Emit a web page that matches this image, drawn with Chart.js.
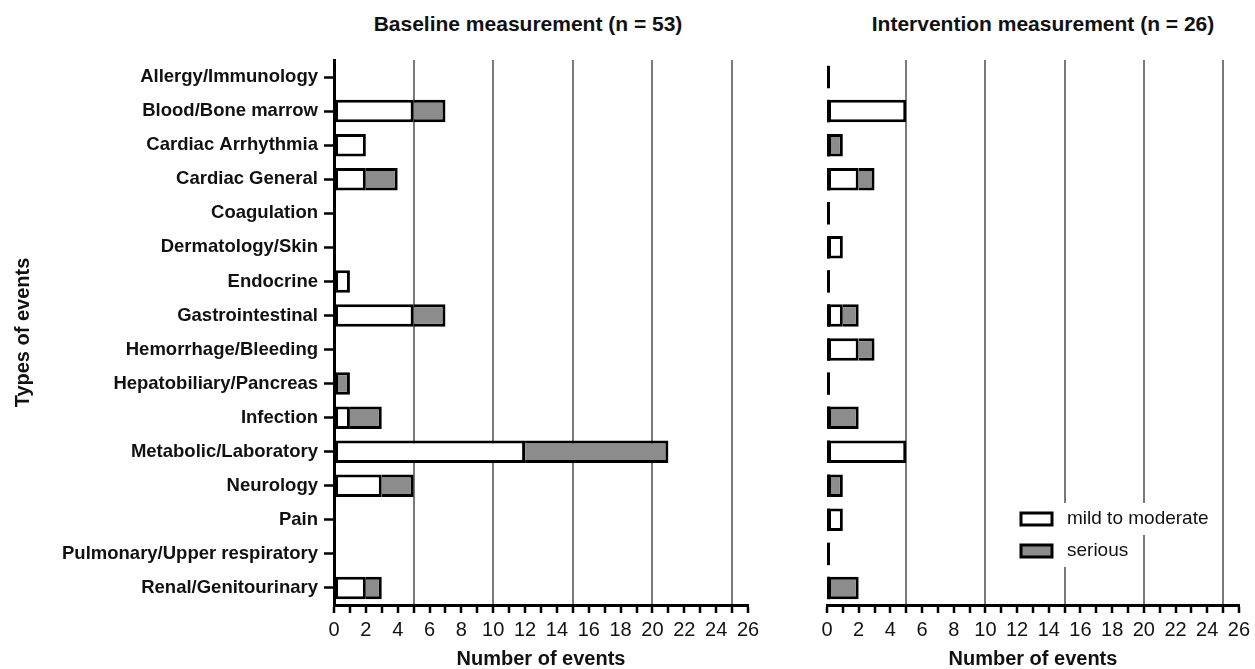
<!DOCTYPE html>
<html>
<head>
<meta charset="utf-8">
<script src="https://cdn.jsdelivr.net/npm/chart.js@4.4.1/dist/chart.umd.min.js"></script>
<style>
  html, body { margin: 0; padding: 0; background: #fff; }
  #page { position: relative; width: 1255px; height: 669px; overflow: hidden; }
  .panel { position: absolute; top: 0; height: 669px; }
  .title {
    position: absolute; top: 12px; width: 420px; text-align: center;
    font: bold 21px 'Liberation Sans', Arial, sans-serif; color: #111;
  }
</style>
</head>
<body>
<div id="page">
  <div class="title" style="left: 318px">Baseline measurement (n = 53)</div>
  <div class="title" style="left: 833px">Intervention measurement (n = 26)</div>
  <div class="panel" style="left: 0; width: 770px"><canvas id="left"></canvas></div>
  <div class="panel" style="left: 770px; width: 485px"><canvas id="right"></canvas></div>
</div>
<script>
const categories = [
  'Allergy/Immunology', 'Blood/Bone marrow', 'Cardiac Arrhythmia', 'Cardiac General',
  'Coagulation', 'Dermatology/Skin', 'Endocrine', 'Gastrointestinal',
  'Hemorrhage/Bleeding', 'Hepatobiliary/Pancreas', 'Infection', 'Metabolic/Laboratory',
  'Neurology', 'Pain', 'Pulmonary/Upper respiratory', 'Renal/Genitourinary'
]
const seriesNames = ['mild to moderate', 'serious']
const baselineMild = [0, 5, 2, 2, 0, 0, 1, 5, 0, 0, 1, 12, 3, 0, 0, 2]
const baselineSerious = [0, 2, 0, 2, 0, 0, 0, 2, 0, 1, 2, 9, 2, 0, 0, 1]
const interventionMild = [0, 5, 0, 2, 0, 1, 0, 1, 2, 0, 0, 5, 0, 1, 0, 0]
const interventionSerious = [0, 0, 1, 1, 0, 0, 0, 1, 1, 0, 2, 0, 1, 0, 0, 2]
const xMax = 26

const FONT = "'Liberation Sans', Arial, sans-serif"
const TEXT = '#111'
const GREY = '#8c8c8c'

function datasets(mild, serious) {
  return [
    {
      label: seriesNames[0],
      data: mild,
      backgroundColor: '#fff',
      borderColor: '#000',
      borderWidth: 3,
      borderSkipped: false,
    },
    {
      label: seriesNames[1],
      data: serious,
      backgroundColor: GREY,
      borderColor: '#000',
      // the white part already draws the divider
      borderWidth: (ctx) => ctx.chart.data.datasets[0].data[ctx.dataIndex] > 0
        ? {top: 3, right: 3, bottom: 3, left: 0}
        : 3,
      borderSkipped: false,
    },
  ]
}

function xScale() {
  return {
    stacked: true,
    min: 0,
    max: xMax,
    afterFit: (scale) => { scale.height = 64 },
    border: {color: '#000', width: 3},
    grid: {
      color: (ctx) => ctx.tick && ctx.tick.value > 0 && ctx.tick.value % 5 === 0 ? '#7a7a7a' : 'rgba(0,0,0,0)',
      lineWidth: 2,
      tickColor: '#000',
      tickWidth: 2.5,
      tickLength: 8,
    },
    ticks: {
      stepSize: 1,
      autoSkip: false,
      maxRotation: 0,
      padding: 5,
      color: TEXT,
      font: {family: FONT, size: 20},
      callback: (v) => v % 2 === 0 ? String(v) : '',
    },
    title: {
      display: true,
      text: 'Number of events',
      color: TEXT,
      font: {family: FONT, size: 20, weight: 'bold', lineHeight: 1},
      padding: {top: 0, bottom: 0},
    },
  }
}

const common = {
  indexAxis: 'y',
  responsive: true,
  maintainAspectRatio: false,
  animation: false,
  devicePixelRatio: 1,
  datasets: {bar: {categoryPercentage: 1, barPercentage: 0.66}},
  plugins: {legend: {display: false}, title: {display: false}, tooltip: {enabled: false}},
}

new Chart(document.getElementById('left'), {
  type: 'bar',
  data: {labels: categories, datasets: datasets(baselineMild, baselineSerious)},
  options: {
    ...common,
    layout: {padding: {left: 0, right: 22, top: 60, bottom: 0}},
    scales: {
      x: xScale(),
      y: {
        stacked: true,
        afterFit: (scale) => { scale.width = 334 },
        border: {color: '#000', width: 3},
        grid: {
          offset: false,
          drawOnChartArea: false,
          tickColor: '#000',
          tickWidth: 2.5,
          tickLength: 10,
        },
        ticks: {
          padding: 6,
          autoSkip: false,
          color: TEXT,
          font: {family: FONT, size: 18.5, weight: 'bold'},
        },
        title: {
          display: true,
          text: 'Types of events',
          color: TEXT,
          font: {family: FONT, size: 20, weight: 'bold'},
          padding: {top: 11, bottom: 0},
        },
      },
    },
  },
})

// zero line segment at the start of every bar slot
const baseDash = {
  id: 'baseDash',
  afterDatasetsDraw(chart) {
    const meta = chart.getDatasetMeta(0)
    const x0 = chart.scales.x.getPixelForValue(0)
    const ctx = chart.ctx
    ctx.save()
    ctx.strokeStyle = '#000'
    ctx.lineWidth = 3
    meta.data.forEach((bar) => {
      ctx.beginPath()
      ctx.moveTo(x0 + 1.5, bar.y - bar.height / 2)
      ctx.lineTo(x0 + 1.5, bar.y + bar.height / 2)
      ctx.stroke()
    })
    ctx.restore()
  },
}

const boxLegend = {
  id: 'boxLegend',
  afterDraw(chart) {
    const ctx = chart.ctx
    const area = chart.chartArea
    const boxX = area.left + 194
    const textX = boxX + 46
    ctx.save()
    ctx.font = '19px ' + FONT
    ctx.textBaseline = 'middle'
    chart.data.datasets.forEach((ds, i) => {
      const cy = area.top + 459 + i * 32
      const w = ctx.measureText(ds.label).width
      ctx.fillStyle = '#fff'
      ctx.fillRect(textX - 6, cy - 16, w + 12, 32)
      ctx.fillStyle = ds.backgroundColor
      ctx.fillRect(boxX, cy - 6, 31, 12)
      ctx.strokeStyle = '#000'
      ctx.lineWidth = 3
      ctx.strokeRect(boxX, cy - 6, 31, 12)
      ctx.fillStyle = TEXT
      ctx.fillText(ds.label, textX, cy)
    })
    ctx.restore()
  },
}

new Chart(document.getElementById('right'), {
  type: 'bar',
  data: {labels: categories, datasets: datasets(interventionMild, interventionSerious)},
  options: {
    ...common,
    layout: {padding: {left: 57, right: 12, top: 60, bottom: 0}},
    scales: {
      x: xScale(),
      y: {stacked: true, display: false},
    },
  },
  plugins: [baseDash, boxLegend],
})
</script>
</body>
</html>
